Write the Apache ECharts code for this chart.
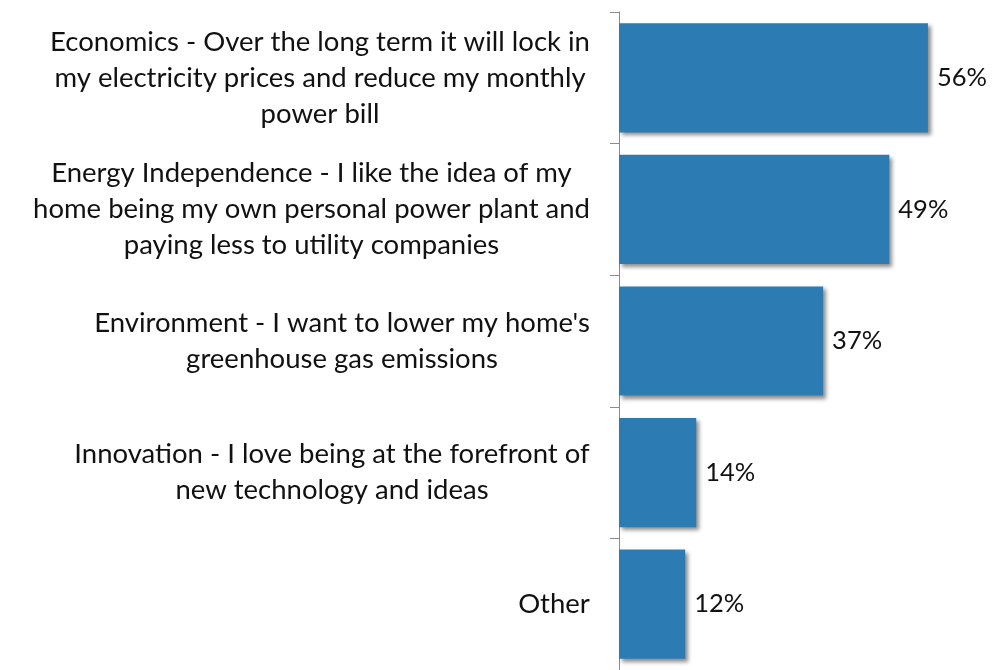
<!DOCTYPE html>
<html>
<head>
<meta charset="utf-8">
<style>
  html, body { margin: 0; padding: 0; background: #fff; }
  #chart { width: 995px; height: 670px; }
</style>
<script src="https://cdn.jsdelivr.net/npm/echarts@6/dist/echarts.min.js"></script>
</head>
<body>
<div id="chart"></div>
<script>
// Reasons for going solar, share of respondents (%)
const categories = [
  "Economics - Over the long term it will lock in\nmy electricity prices and reduce my monthly\npower bill",
  "Energy Independence - I like the idea of my\nhome being my own personal power plant and\npaying less to utility companies",
  "Environment - I want to lower my home's\ngreenhouse gas emissions",
  "Innovation - I love being at the forefront of\nnew technology and ideas",
  "Other"
];
const shares = [56, 49, 37, 14, 12];

const FONT = "Lato";
const LABEL_SIZE = 27.5;
const VALUE_SIZE = 25.5;

// Each label block is right-aligned against the axis, with its lines centred
// inside the block; measure the widest line to size the block.
const ctx = document.createElement("canvas").getContext("2d");
ctx.font = LABEL_SIZE + "px " + FONT;
const rich = {};
categories.forEach((c, i) => {
  const w = Math.max(...c.split("\n").map(l => ctx.measureText(l).width));
  rich["c" + i] = { width: Math.ceil(w) + 2, align: "center", fontSize: LABEL_SIZE,
                    fontFamily: FONT, color: "#111", lineHeight: 36 };
});

const chart = echarts.init(document.getElementById("chart"));
chart.setOption({
  animation: false,
  grid: { left: 619, top: 12, width: 331, height: 658, containLabel: false },
  xAxis: {
    type: "value", min: 0, max: 60, show: false
  },
  yAxis: {
    type: "category",
    inverse: true,
    data: categories,
    axisLine: { show: true, lineStyle: { color: "#8c8c8c", width: 1 } },
    axisTick: { show: true, length: 9, lineStyle: { color: "#8c8c8c" } },
    axisLabel: {
      margin: 28,
      align: "right",
      formatter: (val, idx) => val.split("\n").map(l => "{c" + idx + "|" + l + "}").join("\n"),
      rich: rich
    },
    splitLine: { show: false }
  },
  series: [{
    type: "bar",
    data: shares,
    barCategoryGap: "17%",
    itemStyle: {
      color: "#2D7BB3",
      shadowColor: "rgba(0,0,0,0.45)",
      shadowBlur: 4,
      shadowOffsetX: 3,
      shadowOffsetY: 3
    },
    label: {
      show: true,
      position: "right",
      distance: 9,
      formatter: p => p.value + "%",
      fontFamily: FONT,
      fontSize: VALUE_SIZE,
      color: "#111"
    }
  }]
});
</script>
</body>
</html>
